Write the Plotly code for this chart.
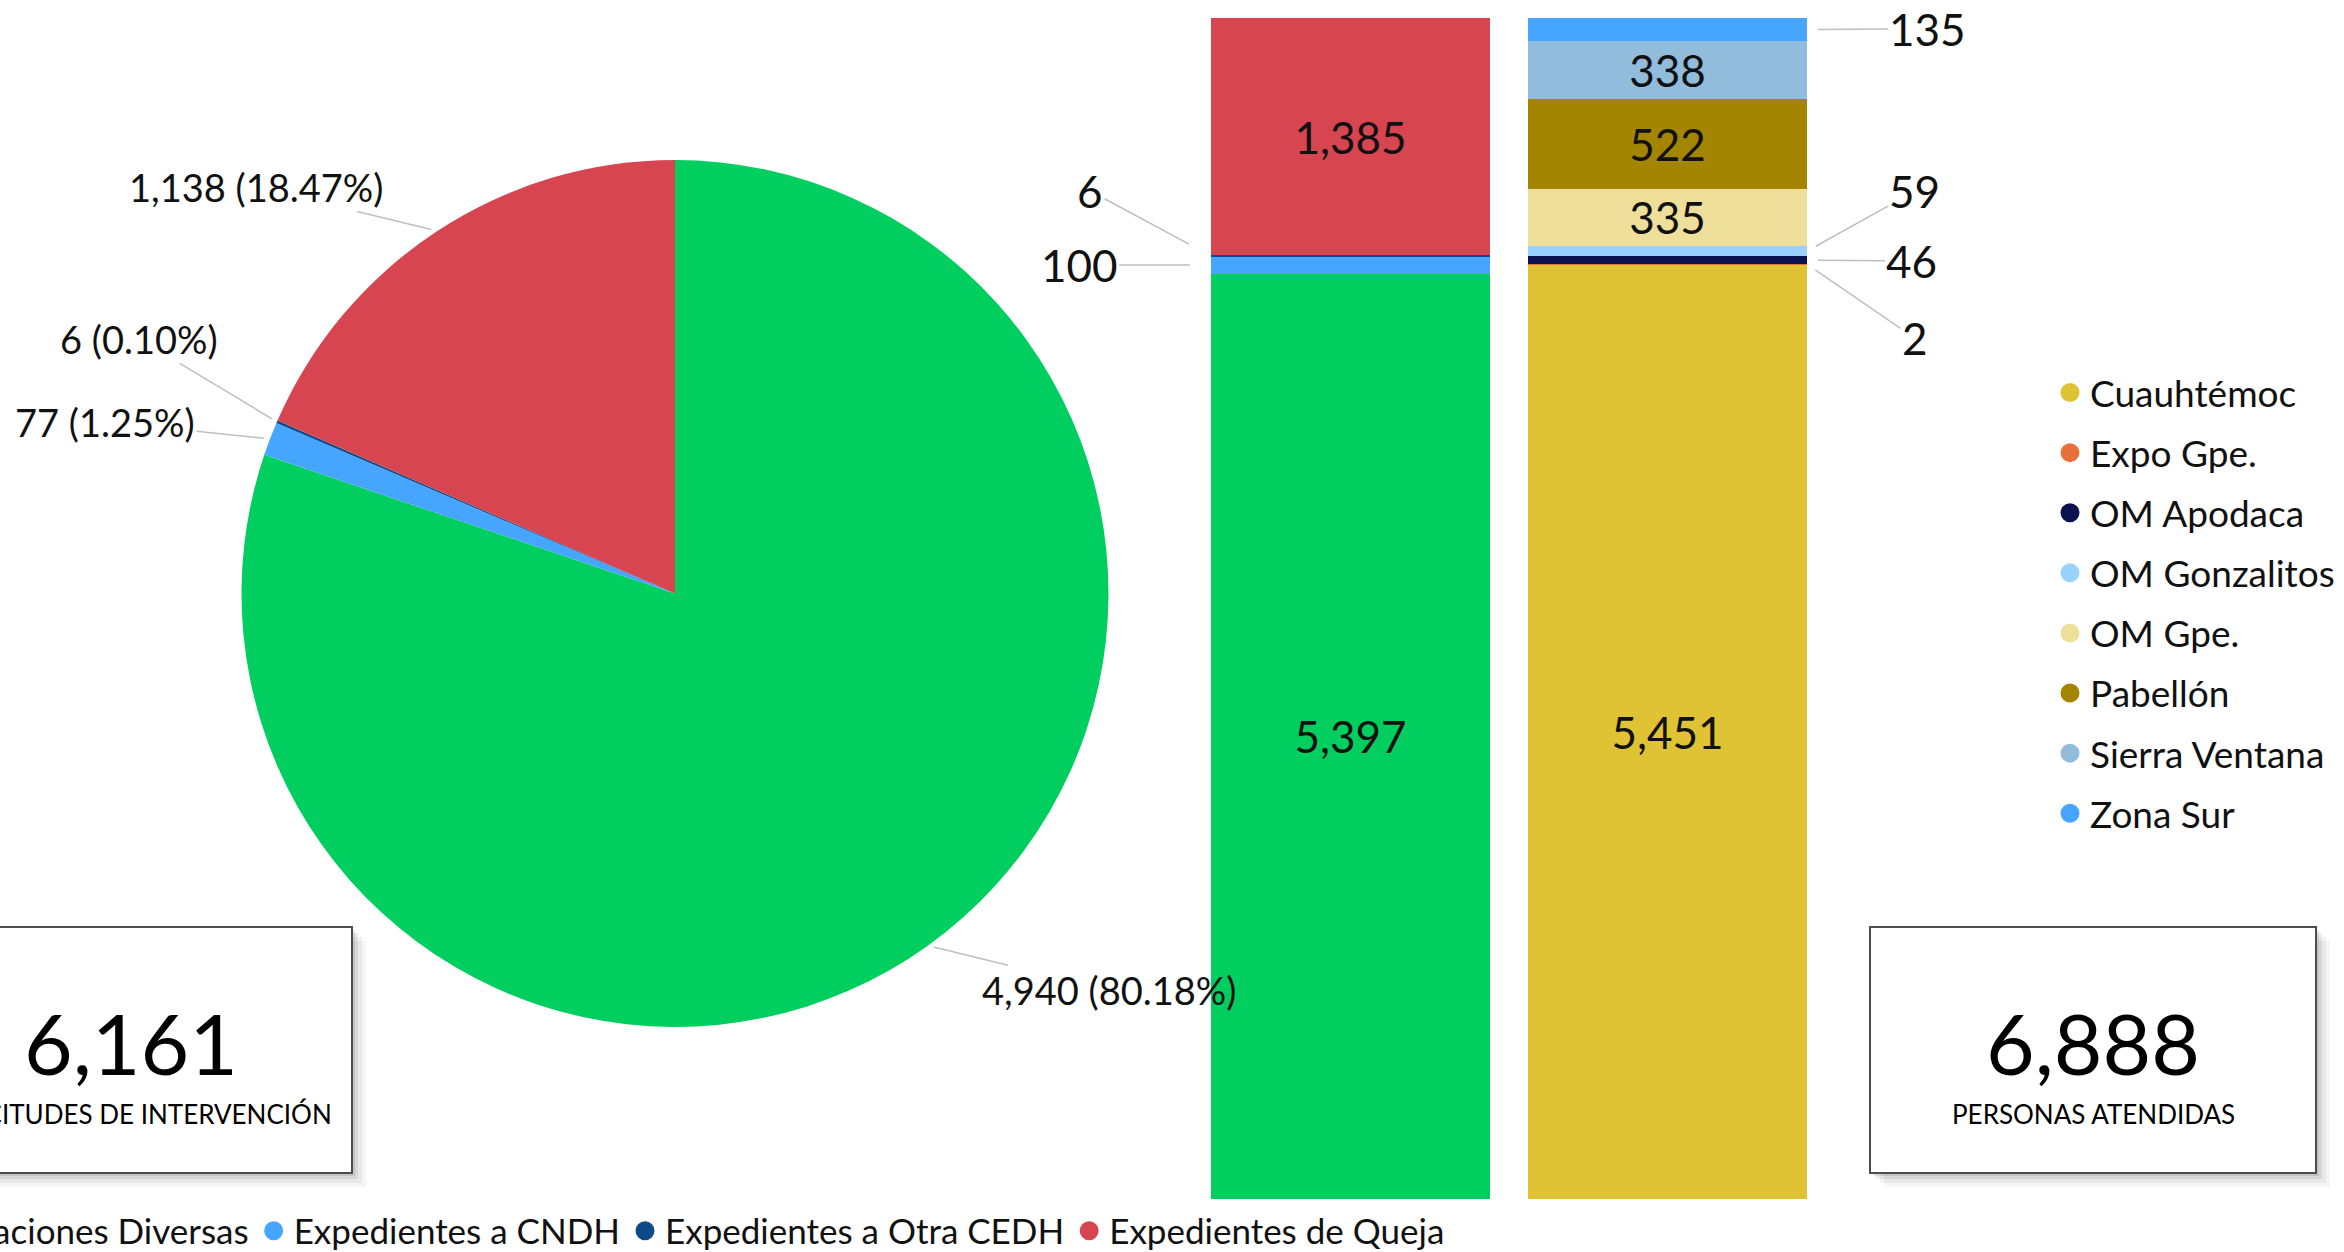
import math
import plotly.graph_objects as go

W, H = 2344, 1252
FONT = "Lato"
TXT = "#111111"
LEADER = "#BFBFBF"

# ---------------- data ----------------
tipos = ["Orientaciones Diversas", "Expedientes a CNDH", "Expedientes a Otra CEDH", "Expedientes de Queja"]
colores_tipo = ["#00CF60", "#45A5FF", "#0E4A8A", "#D64550"]
solicitudes = [4940, 77, 6, 1138]          # pie: solicitudes de intervención
personas_tipo = [5397, 100, 6, 1385]       # left bar: personas por tipo

oficinas = ["Cuauhtémoc", "Expo Gpe.", "OM Apodaca", "OM Gonzalitos",
            "OM Gpe.", "Pabellón", "Sierra Ventana", "Zona Sur"]
colores_oficina = ["#E0C235", "#E8703A", "#0C1150", "#9AD2FF",
                   "#EEE09A", "#A38500", "#92BCDB", "#45A5FF"]
personas_oficina = [5451, 2, 46, 59, 335, 522, 338, 135]

barras = ["Por tipo", "Por oficina"]
total_solicitudes = sum(solicitudes)
total_personas = sum(personas_oficina)

# ---------------- layout helpers (pixel -> paper) ----------------
def px(x):
    return x / W

def py(y):
    return 1 - y / H

PIE_CX, PIE_CY, PIE_R = 675, 593.5, 433.5
BAR_W = 0.88
INSIDE_MIN = 300  # segments smaller than this get an outside callout
BAR_FS = 44
PIE_FS = 38

fig = go.Figure()

# ---------------- pie ----------------
fig.add_trace(go.Pie(
    labels=tipos, values=solicitudes, sort=False, direction="clockwise", rotation=0,
    marker=dict(colors=colores_tipo, line=dict(width=0)),
    textinfo="none", showlegend=False, hoverinfo="label+value+percent",
    domain=dict(x=[px(PIE_CX - PIE_R), px(PIE_CX + PIE_R)],
                y=[py(PIE_CY + PIE_R), py(PIE_CY - PIE_R)]),
))

# ---------------- stacked bars ----------------
for name, val, col in zip(tipos, personas_tipo, colores_tipo):
    fig.add_trace(go.Bar(
        x=[barras[0]], y=[val], name=name, width=BAR_W, showlegend=False,
        marker=dict(color=col, line=dict(width=0)),
        texttemplate="%{y:,}", textposition="inside" if val >= INSIDE_MIN else "none",
        insidetextanchor="middle", textangle=0, constraintext="none",
        insidetextfont=dict(family=FONT, size=BAR_FS, color=TXT),
    ))
for name, val, col in zip(oficinas, personas_oficina, colores_oficina):
    fig.add_trace(go.Bar(
        x=[barras[1]], y=[val], name=name, width=BAR_W, showlegend=False,
        marker=dict(color=col, line=dict(width=0)),
        texttemplate="%{y:,}", textposition="inside" if val >= INSIDE_MIN else "none",
        insidetextanchor="middle", textangle=0, constraintext="none",
        insidetextfont=dict(family=FONT, size=BAR_FS, color=TXT),
    ))

# ---------------- legend entries (circle markers) ----------------
for name, col in zip(tipos, colores_tipo):
    fig.add_trace(go.Scatter(
        x=[None], y=[None], mode="markers", name=name, legend="legend",
        marker=dict(symbol="circle", size=16, color=col, line=dict(color=col, width=3)),
        hoverinfo="skip",
    ))
for i, (name, col) in enumerate(zip(oficinas, colores_oficina)):
    fig.add_trace(go.Scatter(
        x=[None], y=[None], mode="markers", name=name, legend="legend2",
        legendgroup="g%d" % i,
        marker=dict(symbol="circle", size=16, color=col, line=dict(color=col, width=3)),
        hoverinfo="skip",
    ))

annotations = []

# ---------------- pie callouts ----------------
pie_offsets = [(181, 44), (-165, -17), (-138, -83), (-181, -44)]
cum = 0
for val, off in zip(solicitudes, pie_offsets):
    mid = (cum + val / 2) / total_solicitudes * 2 * math.pi
    cum += val
    tx = PIE_CX + PIE_R * math.sin(mid)
    ty = PIE_CY - PIE_R * math.cos(mid)
    annotations.append(dict(
        xref="paper", yref="paper", x=px(tx), y=py(ty),
        text=f"{val:,} ({val / total_solicitudes * 100:.2f}%)",
        showarrow=True, arrowhead=0, arrowwidth=1.5, arrowcolor=LEADER,
        ax=off[0], ay=off[1], standoff=6,
        font=dict(family=FONT, size=PIE_FS, color=TXT),
    ))

# ---------------- bar callouts for thin segments ----------------
left_offsets = {1: (-132, 0, 21), 2: (-121, -65, 25)}
cum = 0
for i, val in enumerate(personas_tipo):
    if val < INSIDE_MIN:
        ax, ay, so = left_offsets[i]
        annotations.append(dict(
            xref="x", yref="y", x=0 - BAR_W / 2, y=cum + val / 2, text=f"{val:,}",
            showarrow=True, arrowhead=0, arrowwidth=1.5, arrowcolor=LEADER,
            ax=ax, ay=ay, standoff=so, font=dict(family=FONT, size=BAR_FS, color=TXT),
        ))
    cum += val

right_offsets = {1: (108, 74, 10), 2: (105, 1, 11), 3: (108, -60, 10), 7: (121, -1, 11)}
cum = 0
for i, val in enumerate(personas_oficina):
    if val < INSIDE_MIN:
        ax, ay, so = right_offsets[i]
        annotations.append(dict(
            xref="x", yref="y", x=1 + BAR_W / 2, y=cum + val / 2, text=f"{val:,}",
            showarrow=True, arrowhead=0, arrowwidth=1.5, arrowcolor=LEADER,
            ax=ax, ay=ay, standoff=so, font=dict(family=FONT, size=BAR_FS, color=TXT),
        ))
    cum += val

# ---------------- KPI boxes ----------------
shapes = []
boxes = [(-91, 352, f"{total_solicitudes:,}", "SOLICITUDES DE INTERVENCIÓN"),
         (1870, 2316, f"{total_personas:,}", "PERSONAS ATENDIDAS")]
BOX_Y0, BOX_Y1 = 927, 1173
for x0, x1, big, small in boxes:
    for k, a in ((14, 0.04), (10, 0.05), (6, 0.07), (3, 0.09)):
        shapes.append(dict(type="rect", xref="paper", yref="paper",
                           x0=px(x0 + k), x1=px(x1 + k), y0=py(BOX_Y1 + k), y1=py(BOX_Y0 + k),
                           fillcolor=f"rgba(0,0,0,{a})", line=dict(width=0)))
    shapes.append(dict(type="rect", xref="paper", yref="paper",
                       x0=px(x0), x1=px(x1), y0=py(BOX_Y1), y1=py(BOX_Y0),
                       fillcolor="white", line=dict(color="#4D4D4D", width=2)))
    cx = (x0 + x1) / 2
    annotations.append(dict(xref="paper", yref="paper", x=px(cx), y=py(1042),
                            text=big, showarrow=False, xanchor="center", yanchor="middle",
                            font=dict(family=FONT, size=84, color="#000000")))
    annotations.append(dict(xref="paper", yref="paper", x=px(cx), y=py(1114),
                            text=small, showarrow=False, xanchor="center", yanchor="middle",
                            font=dict(family=FONT, size=26, color="#000000")))

fig.update_layout(
    width=W, height=H,
    margin=dict(l=0, r=0, t=0, b=0, autoexpand=False),
    paper_bgcolor="white", plot_bgcolor="white",
    barmode="stack",
    font=dict(family=FONT, color=TXT),
    xaxis=dict(domain=[px(1192), px(1826)], range=[-0.5, 1.5], visible=False,
               type="category", categoryorder="array", categoryarray=barras, fixedrange=True),
    yaxis=dict(domain=[py(1199), py(18)], range=[0, total_personas], visible=False, fixedrange=True),
    legend=dict(orientation="h", xref="paper", yref="paper", x=px(1450), xanchor="right",
                y=py(1231), yanchor="middle", font=dict(family=FONT, size=35, color=TXT),
                bgcolor="rgba(0,0,0,0)", traceorder="normal", itemsizing="trace"),
    legend2=dict(orientation="v", xref="paper", yref="paper", x=px(2050), xanchor="left",
                 y=py(362), yanchor="top", font=dict(family=FONT, size=37, color=TXT),
                 bgcolor="rgba(0,0,0,0)", traceorder="grouped", tracegroupgap=9,
                 itemsizing="trace"),
    shapes=shapes,
    annotations=annotations,
    showlegend=True,
)

fig.write_html("out.html", config={"displayModeBar": False},
               post_script="document.body.style.margin='0px';")
